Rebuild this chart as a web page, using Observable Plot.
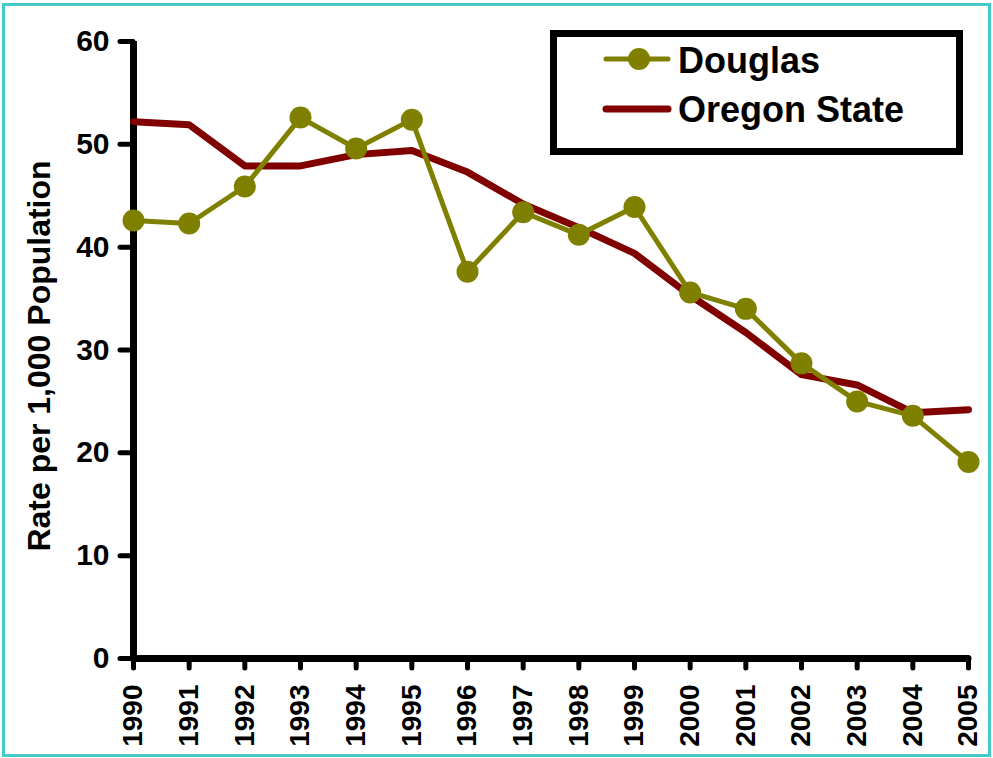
<!DOCTYPE html>
<html>
<head>
<meta charset="utf-8">
<script src="https://cdn.jsdelivr.net/npm/d3@7"></script>
<script src="https://cdn.jsdelivr.net/npm/@observablehq/plot@0.6"></script>
<style>
  body { margin: 0; background: #fff; }
  #wrap { position: relative; width: 993px; height: 758px; overflow: hidden; font-family: "Liberation Sans", Arial, sans-serif; }
  #frame { position: absolute; left: 2px; top: 3px; width: 989px; height: 754px; box-sizing: border-box; border: 3px solid #46c9c9; }
  #chart { position: absolute; left: 0; top: 0; }
  #legend { position: absolute; left: 550px; top: 30px; }
  #chart g[aria-label="y-axis tick label"] text { font-size: 30px !important; font-weight: bold !important; }
  #chart g[aria-label="x-axis tick label"] text { font-size: 28px !important; font-weight: bold !important; }
</style>
</head>
<body>
<div id="wrap">
  <div id="frame"></div>
  <div id="chart"></div>
  <div id="legend"></div>
</div>
<script>
const years = [1990, 1991, 1992, 1993, 1994, 1995, 1996, 1997, 1998, 1999, 2000, 2001, 2002, 2003, 2004, 2005];
const douglas = [42.6, 42.3, 45.9, 52.6, 49.6, 52.4, 37.6, 43.4, 41.2, 43.9, 35.6, 34.0, 28.7, 25.0, 23.6, 19.1];
const oregon = [52.2, 51.9, 47.9, 47.9, 49.0, 49.4, 47.3, 44.2, 41.9, 39.4, 35.3, 31.7, 27.6, 26.6, 23.9, 24.2];
const yTicks = [0, 10, 20, 30, 40, 50, 60];
const yTitle = "Rate per 1,000 Population";
const seriesNames = ["Douglas", "Oregon State"];
const colors = ["#808000", "#800000"];

const douglasData = years.map((year, i) => ({year, value: douglas[i]}));
const oregonData = years.map((year, i) => ({year, value: oregon[i]}));

const chart = Plot.plot({
  width: 993,
  height: 758,
  marginLeft: 133,
  marginRight: 25,
  marginTop: 41,
  marginBottom: 100,
  style: {fontFamily: "'Liberation Sans', Arial, sans-serif", fontWeight: "bold", background: "transparent", color: "#000"},
  x: {domain: [1990, 2005]},
  y: {domain: [0, 60]},
  marks: [
    Plot.axisY({ticks: yTicks, tickSize: 13, tickPadding: 11, fontSize: 30, fontWeight: "bold", strokeWidth: 5, strokeLinecap: "round", label: null}),
    Plot.axisX({ticks: years, tickFormat: d => String(d), tickRotate: -90, tickSize: 10, tickPadding: 16, fontSize: 28, fontWeight: "bold", strokeWidth: 5, strokeLinecap: "round", label: null}),
    Plot.ruleX([1990], {y1: 0, y2: 60, stroke: "black", strokeWidth: 7}),
    Plot.ruleY([0], {x1: 1990, x2: 2005, stroke: "black", strokeWidth: 7, strokeLinecap: "round"}),
    Plot.text([yTitle], {frameAnchor: "left", textAnchor: "middle", dx: -93.5, dy: 6, rotate: -90, fontSize: 32, fontWeight: "bold", fill: "black"}),
    Plot.line(oregonData, {x: "year", y: "value", stroke: colors[1], strokeWidth: 7, strokeLinejoin: "round", strokeLinecap: "round"}),
    Plot.line(douglasData, {x: "year", y: "value", stroke: colors[0], strokeWidth: 5, strokeLinejoin: "round"}),
    Plot.dot(douglasData, {x: "year", y: "value", r: 11, fill: colors[0], stroke: "none"})
  ]
});
chart.querySelectorAll('g[aria-label="y-axis tick"], g[aria-label="x-axis tick"]').forEach(g => {
  g.setAttribute("stroke-width", 5);
  g.setAttribute("stroke-linecap", "round");
});
document.getElementById("chart").appendChild(chart);

// Legend
const ns = "http://www.w3.org/2000/svg";
const lg = document.createElementNS(ns, "svg");
lg.setAttribute("width", 413);
lg.setAttribute("height", 125);
lg.innerHTML = `
  <rect x="3.5" y="3.5" width="406" height="118" fill="white" stroke="black" stroke-width="7"/>
  <line x1="56" y1="29" x2="118" y2="29" stroke="${colors[0]}" stroke-width="5" stroke-linecap="round"/>
  <circle cx="89" cy="29" r="11" fill="${colors[0]}"/>
  <text x="128" y="43" font-family="'Liberation Sans', Arial, sans-serif" font-weight="bold" font-size="36">${seriesNames[0]}</text>
  <line x1="56" y1="79" x2="118" y2="79" stroke="${colors[1]}" stroke-width="7" stroke-linecap="round"/>
  <text x="128" y="92" font-family="'Liberation Sans', Arial, sans-serif" font-weight="bold" font-size="36">${seriesNames[1]}</text>
`;
document.getElementById("legend").appendChild(lg);
</script>
</body>
</html>
